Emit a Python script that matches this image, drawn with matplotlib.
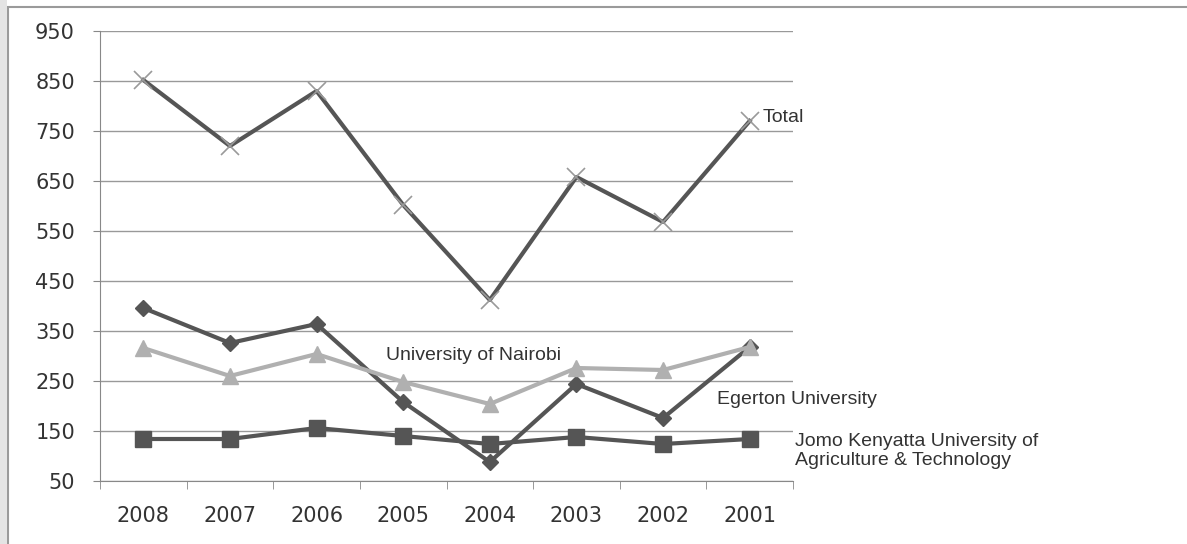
import matplotlib
matplotlib.use("Agg")
import matplotlib.pyplot as plt
from matplotlib.patches import Rectangle

years = ["2008", "2007", "2006", "2005", "2004", "2003", "2002", "2001"]
total = [852, 720, 830, 602, 412, 658, 568, 770]
egerton = [396, 326, 364, 208, 88, 244, 176, 318]
nairobi = [316, 260, 304, 248, 204, 276, 272, 318]
jkuat = [134, 134, 156, 140, 124, 138, 124, 134]
yticks = list(range(50, 951, 100))

W, H = 1187, 544
fig = plt.figure(figsize=(W / 100, H / 100), dpi=100)
fig.patch.set_facecolor("white")

# page frame
fig.patches.append(Rectangle((8 / W, -0.1), 1.2, (544 - 7) / H + 0.1,
                             transform=fig.transFigure, fill=False,
                             edgecolor="#9a9a9a", lw=1.5))
fig.patches.append(Rectangle((0, 0), 7 / W, 1, transform=fig.transFigure,
                             facecolor="#e4e4e4", edgecolor="none"))

ax = fig.add_axes([100 / W, 1 - 481 / H, 693 / W, 450 / H])
x = list(range(len(years)))

dark = "#555555"
light = "#b0b0b0"
ax.plot(x, total, color=dark, lw=3, marker="x", ms=13, mew=1.2, mec="#9a9a9a", zorder=3)
ax.plot(x, egerton, color=dark, lw=3, marker="D", ms=8, mfc=dark, mec=dark, zorder=3)
ax.plot(x, nairobi, color=light, lw=3, marker="^", ms=11, mfc=light, mec=light, zorder=4)
ax.plot(x, jkuat, color=dark, lw=3, marker="s", ms=12, mfc=dark, mec=dark, zorder=3)

ax.set_xlim(-0.5, len(years) - 0.5)
ax.set_ylim(50, 950)
ax.set_yticks(yticks)
ax.set_yticklabels([str(v) for v in yticks], fontsize=15, color="#333333")
ax.set_xticks(x)
ax.set_xticklabels(years, fontsize=15, color="#333333")
ax.tick_params(axis="x", length=0, pad=18)
ax.set_xticks([i + 0.5 for i in range(-1, len(years))], minor=True)
ax.tick_params(axis="x", which="minor", length=6, color="#888888", direction="out")
ax.tick_params(axis="y", length=5, color="#888888", pad=13)
ax.grid(axis="y", color="#999999", lw=1)
ax.set_axisbelow(True)
for s in ["top", "right"]:
    ax.spines[s].set_visible(False)
for s in ["left", "bottom"]:
    ax.spines[s].set_color("#888888")

lab = dict(fontsize=14, color="#333333", family="Liberation Sans")
fig.text(763 / W, 1 - 117 / H, "Total", ha="left", va="center", **lab)
fig.text(474 / W, 1 - 355 / H, "University of Nairobi", ha="center", va="center", **lab)
fig.text(717 / W, 1 - 399 / H, "Egerton University", ha="left", va="center", **lab)
fig.text(795 / W, 1 - 451 / H, "Jomo Kenyatta University of\nAgriculture & Technology",
         ha="left", va="center", linespacing=1.2, **lab)

fig.savefig("out.png", dpi=100, facecolor="white")
